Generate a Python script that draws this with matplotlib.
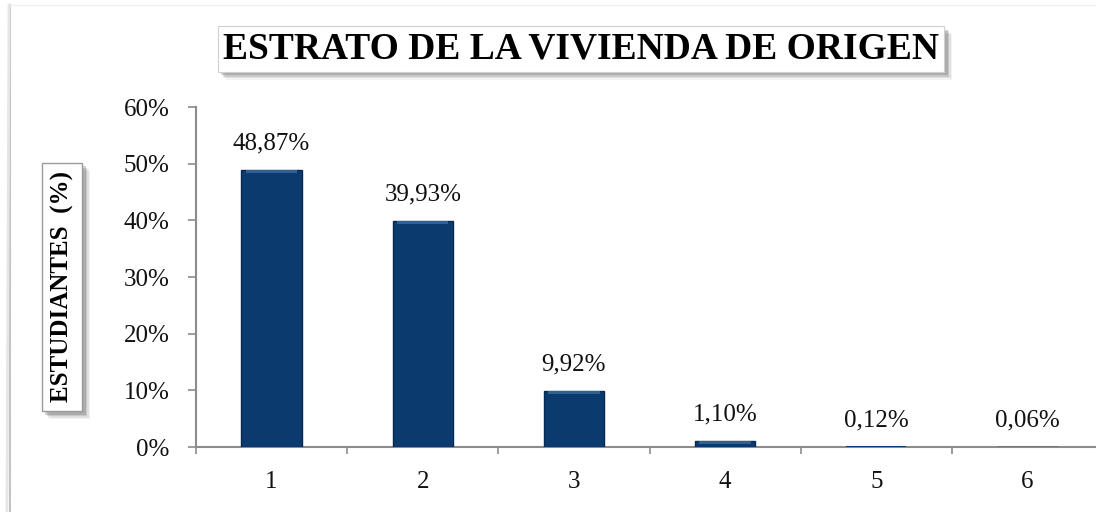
import matplotlib
matplotlib.use("Agg")
import matplotlib.pyplot as plt
from matplotlib.patches import Rectangle
from matplotlib.lines import Line2D

# data
estratos = ["1", "2", "3", "4", "5", "6"]
porcentajes = [48.87, 39.93, 9.92, 1.10, 0.12, 0.06]
etiquetas = ["48,87%", "39,93%", "9,92%", "1,10%", "0,12%", "0,06%"]
yticks = [0, 10, 20, 30, 40, 50, 60]
ytick_labels = ["0%", "10%", "20%", "30%", "40%", "50%", "60%"]

titulo = "ESTRATO DE LA VIVIENDA DE ORIGEN"
ylabel = "ESTUDIANTES  (%)"

plt.rcParams["font.family"] = ["Liberation Serif", "DejaVu Serif"]

W, H = 1096, 512
fig = plt.figure(figsize=(W / 100, H / 100), dpi=100)
fig.patch.set_facecolor("white")

# outer chart frame (only left and top edges are visible)
fig.add_artist(Line2D([10 / W, 10 / W], [0, 1 - 5 / H], transform=fig.transFigure,
                      color="#c4c4c4", lw=1.5))
fig.add_artist(Line2D([7 / W, 9 / W], [0, 1 - 5 / H], transform=fig.transFigure,
                      color="#e6e6e6", lw=2))
fig.add_artist(Line2D([10 / W, 1], [1 - 5 / H, 1 - 5 / H], transform=fig.transFigure,
                      color="#f0f0f0", lw=1))

ax = fig.add_axes([196 / W, 1 - 447 / H, 907 / W, 340 / H])
x = list(range(len(estratos)))
bar_color = "#0b3a6e"
ax.bar(x, porcentajes, width=0.4, color=bar_color, linewidth=0, zorder=3)
# bevel: darker sides and a lighter top strip on the visible bars
grandes = [p if p >= 0.5 else 0 for p in porcentajes]
ax.bar(x, grandes, width=0.4, color="none", edgecolor="#062a55", linewidth=1.0, zorder=4)
ax.bar(x, [min(p, 0.5) for p in grandes], width=0.34,
       bottom=[p - min(p, 0.5) for p in grandes],
       color="#2f5f95", linewidth=0, zorder=5)

for xi, p, lab in zip(x, porcentajes, etiquetas):
    ax.annotate(lab, (xi, p), xytext=(0, 11), textcoords="offset points",
                ha="center", va="bottom", fontsize=18, color="#111111")

ax.set_xlim(-0.5, 5.5)
ax.set_ylim(0, 60)
ax.set_yticks(yticks)
ax.set_yticklabels(ytick_labels)
ax.set_xticks(x)
ax.set_xticklabels(estratos)
ax.set_xticks([i - 0.5 for i in range(len(estratos) + 1)], minor=True)

gris = "#8c8c8c"
for s in ["top", "right"]:
    ax.spines[s].set_visible(False)
for s in ["left", "bottom"]:
    ax.spines[s].set_color(gris)
    ax.spines[s].set_linewidth(1.5)

ax.tick_params(axis="y", which="major", length=6, width=1.2, color=gris, pad=13,
               labelsize=18, labelcolor="#111111")
ax.tick_params(axis="x", which="major", length=0, pad=17, labelsize=18, labelcolor="#111111")
ax.tick_params(axis="x", which="minor", length=5, width=1.2, color=gris)

# boxed texts; shadows are added as plain rectangles after a first draw
t_titulo = fig.text(581 / W, 1 - 49 / H, titulo, ha="center", va="center",
                    fontsize=27, fontweight="bold", color="black", zorder=10,
                    bbox=dict(boxstyle="square,pad=0.14", fc="white", ec="#d0d0d0", lw=0.8))
t_ylabel = fig.text(62 / W, 1 - 287 / H, ylabel, ha="center", va="center", rotation=90,
                    fontsize=18, fontweight="bold", color="black", zorder=10,
                    bbox=dict(boxstyle="square,pad=0.35", fc="white", ec="#9a9a9a", lw=1.0))

fig.canvas.draw()
for t in [t_titulo, t_ylabel]:
    bb = t.get_bbox_patch().get_window_extent()
    for d, a in [(8, 0.08), (6.5, 0.14), (5, 0.22), (3.5, 0.30)]:
        fig.add_artist(Rectangle(((bb.x0 + d) / W, (bb.y0 - d) / H), bb.width / W, bb.height / H,
                                 transform=fig.transFigure, fc="#707070", ec="none",
                                 alpha=a, zorder=9))

fig.savefig("out.png", dpi=100, facecolor="white")
